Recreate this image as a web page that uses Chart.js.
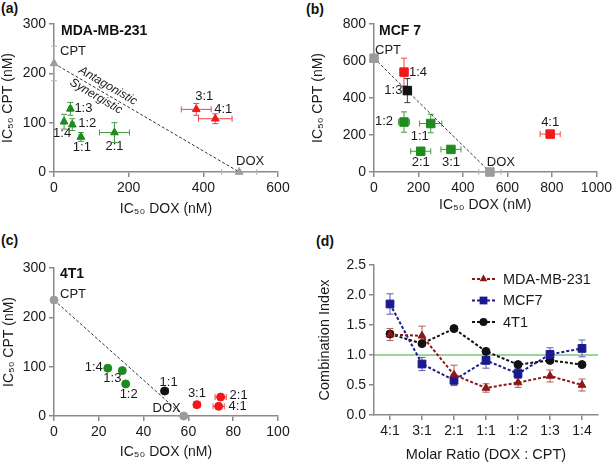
<!DOCTYPE html>
<html>
<head>
<meta charset="utf-8">
<title>Isobolograms and combination index</title>
<script src="https://cdn.jsdelivr.net/npm/chart.js@4.4.0/dist/chart.umd.min.js"></script>
<style>
  html, body { margin: 0; padding: 0; background: #fff; }
  body { width: 615px; height: 467px; position: relative; overflow: hidden; }
  canvas { position: absolute; }
  .tag, .cell { position: absolute; font: bold 14px 'Liberation Sans', Arial, sans-serif; line-height: 16px; color: #111; white-space: nowrap; }
</style>
</head>
<body>
<div class="tag" style="left:1px;top:0px">(a)</div>
<div class="tag" style="left:306px;top:1px">(b)</div>
<div class="tag" style="left:1px;top:232px">(c)</div>
<div class="tag" style="left:316px;top:233px">(d)</div>

<canvas id="chartA" width="305" height="225" style="left:0;top:0"></canvas>
<canvas id="chartB" width="310" height="225" style="left:305px;top:0"></canvas>
<canvas id="chartC" width="305" height="242" style="left:0;top:225px"></canvas>
<canvas id="chartD" width="310" height="242" style="left:305px;top:225px"></canvas>

<div class="cell" style="left:61px;top:22px">MDA-MB-231</div>
<div class="cell" style="left:379px;top:22px">MCF 7</div>
<div class="cell" style="left:60px;top:265px">4T1</div>

<script>
// molar ratios DOX : CPT, same order in every array below
const ratios = ['4:1', '3:1', '2:1', '1:1', '1:2', '1:3', '1:4'];

// single agent IC50 (nM), cell lines: MDA-MB-231, MCF 7, 4T1
const singleDox = [496, 521, 57.9];
const singleDoxErr = [47, 50, 0];
const singleCpt = [220, 615, 235];
const singleCptErr = [35, 15, 5];

// (a) MDA-MB-231 combos, IC50 (nM)
const mdaDox = [432, 381, 162, 72, 49, 44, 27];
const mdaDoxErr = [45, 40, 40, 5, 5, 4, 4];
const mdaCpt = [108, 127, 80, 71, 96, 128, 102];
const mdaCptErr = [10, 12, 20, 9, 12, 13, 15];
const mdaEffect = ['ant', 'ant', 'syn', 'syn', 'syn', 'syn', 'syn'];

// (b) MCF 7 combos
const mcfDox = [792, 346, 210, 255, 135, 150, 135];
const mcfDoxErr = [45, 45, 45, 50, 25, 15, 15];
const mcfCpt = [205, 122, 112, 262, 270, 440, 540];
const mcfCptErr = [12, 12, 15, 50, 55, 65, 75];
const mcfEffect = ['ant', 'syn', 'syn', 'syn', 'syn', 'add', 'ant'];

// (c) 4T1 combos
const t1Dox = [73.5, 63.8, 74.4, 49.4, 32, 30.5, 24];
const t1DoxErr = [2.5, 1.5, 2.5, 1.5, 0.5, 0.5, 0.5];
const t1Cpt = [19.6, 23, 38.4, 50.6, 65, 92, 97];
const t1CptErr = [3, 3, 3, 3, 2, 2, 2];
const t1Effect = ['ant', 'ant', 'ant', 'add', 'syn', 'syn', 'syn'];

// (d) combination index per ratio
const ciMda = [1.34, 1.32, 0.67, 0.45, 0.54, 0.65, 0.50];
const ciMdaErr = [0.10, 0.16, 0.16, 0.07, 0.08, 0.10, 0.10];
const ciMcf = [1.85, 0.85, 0.58, 0.91, 0.69, 1.01, 1.11];
const ciMcfErr = [0.17, 0.11, 0.09, 0.13, 0.08, 0.11, 0.14];
const ciT1 = [1.35, 1.19, 1.44, 1.06, 0.84, 0.91, 0.84];
const ciT1Err = [0.03, 0.03, 0.02, 0.03, 0.02, 0.03, 0.02];
const ciAdditive = 1;

const FONT = "'Liberation Sans', Arial, Helvetica, sans-serif";
Chart.defaults.font.family = FONT;
Chart.defaults.color = '#1a1a1a';
Chart.defaults.animation = false;
Chart.defaults.plugins.legend.display = false;
Chart.defaults.plugins.tooltip.enabled = false;

const AXIS = '#8a8a8a';
const GREY = '#9c9c9c';
const effectColor = { syn: '#1f8a1f', ant: '#f01818', add: '#111111' };
const effectErr = { syn: '#3f9c3f', ant: '#f04545', add: '#3a3a3a' };

// error bars drawn under the markers, through the chart's own scales
const errorBars = {
    id: 'errorBars',
    beforeDatasetsDraw(chart) {
        const ctx = chart.ctx;
        const xs = chart.scales.x, ys = chart.scales.y;
        ctx.save();
        ctx.lineWidth = 1;
        chart.data.datasets.forEach((ds, di) => {
            if (!ds.xErr && !ds.yErr) return;
            const meta = chart.getDatasetMeta(di);
            const cap = ds.errCap || 3;
            meta.data.forEach((el, i) => {
                const raw = ds.data[i];
                const yv = typeof raw === 'object' ? raw.y : raw;
                ctx.strokeStyle = Array.isArray(ds.errColor) ? ds.errColor[i] : ds.errColor;
                ctx.beginPath();
                if (ds.yErr && ds.yErr[i]) {
                    const a = ys.getPixelForValue(yv + ds.yErr[i]);
                    const b = ys.getPixelForValue(yv - ds.yErr[i]);
                    ctx.moveTo(el.x, a); ctx.lineTo(el.x, b);
                    ctx.moveTo(el.x - cap, a); ctx.lineTo(el.x + cap, a);
                    ctx.moveTo(el.x - cap, b); ctx.lineTo(el.x + cap, b);
                }
                if (ds.xErr && ds.xErr[i]) {
                    const a = xs.getPixelForValue(raw.x - ds.xErr[i]);
                    const b = xs.getPixelForValue(raw.x + ds.xErr[i]);
                    ctx.moveTo(a, el.y); ctx.lineTo(b, el.y);
                    ctx.moveTo(a, el.y - cap); ctx.lineTo(a, el.y + cap);
                    ctx.moveTo(b, el.y - cap); ctx.lineTo(b, el.y + cap);
                }
                ctx.stroke();
            });
        });
        ctx.restore();
    }
};
Chart.register(errorBars);

// ratio / agent names next to the points
function pointTags(offsets) {
    return {
        id: 'pointTags',
        afterDatasetsDraw(chart) {
            const ctx = chart.ctx;
            ctx.save();
            ctx.font = '13px ' + FONT;
            ctx.fillStyle = '#1a1a1a';
            ctx.textAlign = 'center';
            ctx.textBaseline = 'middle';
            chart.data.datasets.forEach((ds, di) => {
                if (!ds.tags) return;
                chart.getDatasetMeta(di).data.forEach((el, i) => {
                    const off = offsets[ds.tags[i]] || [0, 0];
                    ctx.fillText(ds.tags[i], el.x + off[0], el.y + off[1]);
                });
            });
            ctx.restore();
        }
    };
}

function linearAxis(min, max, step, title, fit, titlePad, vertical, fontSize) {
    return {
        type: 'linear',
        min: min,
        max: max,
        ticks: {
            stepSize: step,
            padding: 3,
            maxRotation: 0,
            font: { size: 14 },
            color: '#1a1a1a',
            callback: v => (step < 1 ? v.toFixed(1) : v)
        },
        grid: { drawOnChartArea: false, drawTicks: true, tickLength: 5, color: AXIS, lineWidth: 1.5 },
        border: { display: true, color: AXIS, width: 1.5 },
        title: {
            display: true, text: title, color: '#1a1a1a',
            font: { size: fontSize || 14, lineHeight: 1 },
            padding: { top: titlePad, bottom: titlePad }
        },
        afterFit: s => { if (vertical) s.width = fit; else s.height = fit; }
    };
}

function isobologram(cfg) {
    const k = cfg.cell;
    const combos = ratios.map((r, i) => ({ x: cfg.dox[i], y: cfg.cpt[i] }));
    const singles = [{ x: 0, y: singleCpt[k] }, { x: singleDox[k], y: 0 }];
    const fills = cfg.effect.map(e => effectColor[e]);
    return new Chart(document.getElementById(cfg.id), {
        type: 'scatter',
        data: {
            datasets: [
                {
                    data: combos, tags: ratios,
                    xErr: cfg.doxErr, yErr: cfg.cptErr,
                    errColor: cfg.effect.map(e => effectErr[e]),
                    pointStyle: cfg.marker, pointRadius: cfg.radius,
                    pointBackgroundColor: fills, pointBorderColor: fills, pointBorderWidth: 1,
                    clip: false
                },
                {
                    data: singles, tags: ['CPT', 'DOX'],
                    xErr: [0, singleDoxErr[k]], yErr: [singleCptErr[k], 0],
                    errColor: '#b4b4b4',
                    pointStyle: cfg.marker, pointRadius: cfg.radius,
                    pointBackgroundColor: GREY, pointBorderColor: GREY, pointBorderWidth: 1,
                    clip: false
                },
                {
                    // additivity line between the two single-agent IC50s
                    data: singles, showLine: true,
                    borderColor: '#333', borderWidth: 1, borderDash: [3, 2],
                    pointRadius: 0, clip: false
                }
            ]
        },
        options: {
            responsive: false,
            layout: { padding: cfg.pad },
            scales: {
                x: linearAxis(0, cfg.xMax, cfg.xStep, 'IC\u2085\u2080 DOX (nM)', cfg.xFit, cfg.xTitlePad, false),
                y: linearAxis(0, cfg.yMax, cfg.yStep, 'IC\u2085\u2080 CPT (nM)', cfg.yFit, cfg.yTitlePad, true)
            }
        },
        plugins: [pointTags(cfg.offsets)].concat(cfg.extra || [])
    });
}

// "Antagonistic / Synergistic" written along the additivity line of panel (a)
const zoneText = {
    id: 'zoneText',
    afterDatasetsDraw(chart) {
        const xs = chart.scales.x, ys = chart.scales.y;
        const x0 = xs.getPixelForValue(0), y0 = ys.getPixelForValue(singleCpt[0]);
        const x1 = xs.getPixelForValue(singleDox[0]), y1 = ys.getPixelForValue(0);
        const t = 0.26;
        const ctx = chart.ctx;
        ctx.save();
        ctx.translate(x0 + (x1 - x0) * t, y0 + (y1 - y0) * t);
        ctx.rotate(Math.atan2(y1 - y0, x1 - x0));
        ctx.font = 'italic 12px ' + FONT;
        ctx.fillStyle = '#1a1a1a';
        ctx.textAlign = 'center';
        ctx.textBaseline = 'middle';
        ctx.fillText('Antagonistic', 2, -8);
        ctx.fillText('Synergistic', -3, 7);
        ctx.restore();
    }
};

isobologram({
    id: 'chartA', cell: 0,
    dox: mdaDox, doxErr: mdaDoxErr, cpt: mdaCpt, cptErr: mdaCptErr, effect: mdaEffect,
    marker: 'triangle', radius: 4.5,
    xMax: 600, xStep: 200, yMax: 300, yStep: 100,
    pad: { top: 24, right: 27, bottom: 0, left: 0 },
    xFit: 53, yFit: 54, xTitlePad: 9, yTitlePad: 1.5,
    offsets: {
        'CPT': [19, -12], 'DOX': [11, -11],
        '1:4': [-2, 12], '1:3': [13, 0], '1:2': [15, -1], '1:1': [1, 10],
        '2:1': [0, 14], '3:1': [8, -13], '4:1': [8, -9]
    },
    extra: [zoneText]
});

isobologram({
    id: 'chartB', cell: 1,
    dox: mcfDox, doxErr: mcfDoxErr, cpt: mcfCpt, cptErr: mcfCptErr, effect: mcfEffect,
    marker: 'rect', radius: 6,
    xMax: 1000, xStep: 200, yMax: 800, yStep: 200,
    pad: { top: 24, right: 17, bottom: 0, left: 0 },
    xFit: 53, yFit: 69, xTitlePad: 13, yTitlePad: 6,
    offsets: {
        'CPT': [14, -8], 'DOX': [11, -10],
        '1:4': [14, 0], '1:3': [-14, 0], '1:2': [-20, -1], '1:1': [-11, 13],
        '2:1': [0, 11], '3:1': [0, 13], '4:1': [0, -12]
    }
});

isobologram({
    id: 'chartC', cell: 2,
    dox: t1Dox, doxErr: t1DoxErr, cpt: t1Cpt, cptErr: t1CptErr, effect: t1Effect,
    marker: 'circle', radius: 4,
    xMax: 100, xStep: 20, yMax: 300, yStep: 100,
    pad: { top: 43, right: 27, bottom: 0, left: 0 },
    xFit: 51, yFit: 54, xTitlePad: 8, yTitlePad: 2,
    offsets: {
        'CPT': [19, -6], 'DOX': [-17, -8],
        '1:4': [-14, -1], '1:3': [-10, 8], '1:2': [3, 10], '1:1': [4, -9],
        '2:1': [18, -2], '3:1': [0, -11], '4:1': [19, 0]
    }
});

// panel (d): additive reference line and hand-placed legend
const additiveLine = {
    id: 'additiveLine',
    beforeDatasetsDraw(chart) {
        const { ctx, chartArea } = chart;
        const y = chart.scales.y.getPixelForValue(ciAdditive);
        ctx.save();
        ctx.strokeStyle = '#3ea83e';
        ctx.lineWidth = 1;
        ctx.beginPath();
        ctx.moveTo(chartArea.left, y);
        ctx.lineTo(chartArea.right, y);
        ctx.stroke();
        ctx.restore();
    }
};

const ciLegend = {
    id: 'ciLegend',
    afterDraw(chart) {
        const ctx = chart.ctx;
        ctx.save();
        chart.data.datasets.forEach((ds, i) => {
            const y = 54 + i * 21.5;
            ctx.strokeStyle = ds.borderColor;
            ctx.lineWidth = 2;
            ctx.setLineDash([3, 2]);
            ctx.beginPath();
            ctx.moveTo(167, y);
            ctx.lineTo(190, y);
            ctx.stroke();
            ctx.setLineDash([]);
            ctx.fillStyle = ds.borderColor;
            Chart.helpers.drawPoint(ctx, { pointStyle: ds.pointStyle, radius: ds.pointRadius, rotation: 0, borderWidth: 0 }, 178.5, y);
            ctx.font = '14.5px ' + FONT;
            ctx.fillStyle = '#1a1a1a';
            ctx.textAlign = 'left';
            ctx.textBaseline = 'middle';
            ctx.fillText(ds.label, 198, y + 0.5);
        });
        ctx.restore();
    }
};

function ciSeries(label, values, errs, color, errColor, marker, radius) {
    return {
        label: label, data: values, yErr: errs, errColor: errColor, errCap: 3.5,
        borderColor: color, backgroundColor: color, borderWidth: 2, borderDash: [3, 2],
        pointStyle: marker, pointRadius: radius,
        pointBackgroundColor: color, pointBorderColor: color, pointBorderWidth: 1,
        clip: false
    };
}

const ciY = linearAxis(0, 2.5, 0.5, 'Combination Index', 69, 12.75, true, 14.5);
new Chart(document.getElementById('chartD'), {
    type: 'line',
    data: {
        labels: ratios,
        datasets: [
            ciSeries('MDA-MB-231', ciMda, ciMdaErr, '#8e1616', '#b05a5a', 'triangle', 4.5),
            ciSeries('MCF7', ciMcf, ciMcfErr, '#1a1a8e', '#5a5ab4', 'rect', 5.5),
            ciSeries('4T1', ciT1, ciT1Err, '#111111', '#444444', 'circle', 4)
        ]
    },
    options: {
        responsive: false,
        layout: { padding: { top: 40, right: 17, bottom: 0, left: 0 } },
        scales: {
            x: {
                type: 'category',
                offset: true,
                ticks: { padding: 3, maxRotation: 0, autoSkip: false, font: { size: 14 }, color: '#1a1a1a' },
                grid: { drawOnChartArea: false, drawTicks: true, tickLength: 5, color: AXIS, lineWidth: 1.5, offset: false },
                border: { display: true, color: AXIS, width: 1.5 },
                title: {
                    display: true, text: 'Molar Ratio (DOX : CPT)', color: '#1a1a1a',
                    font: { size: 14.5, lineHeight: 1 }, padding: { top: 4.75, bottom: 4.75 }
                },
                afterFit: s => { s.height = 52; }
            },
            y: ciY
        }
    },
    plugins: [additiveLine, ciLegend]
});
</script>
</body>
</html>
